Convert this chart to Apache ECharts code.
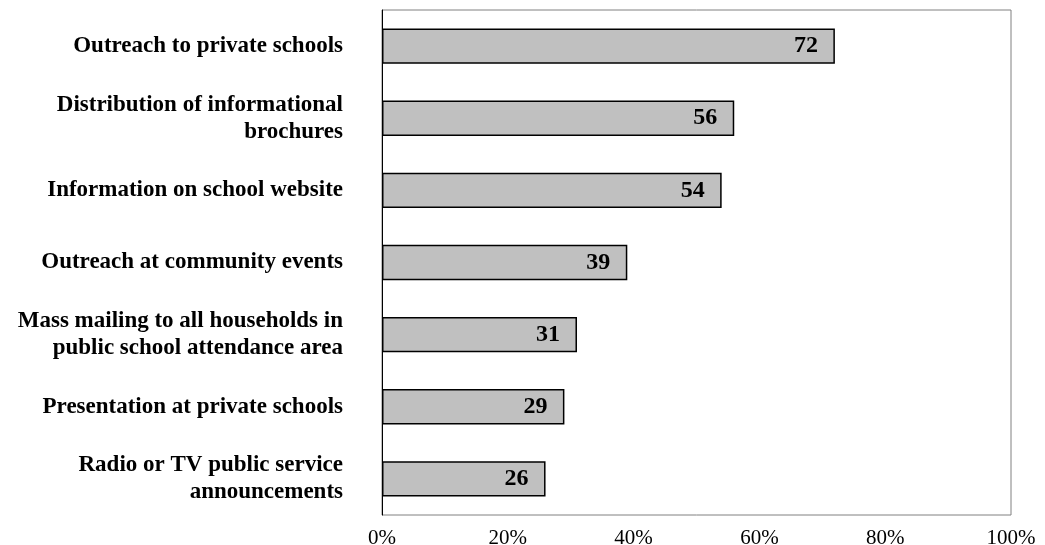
<!DOCTYPE html>
<html>
<head>
<meta charset="utf-8">
<script src="https://cdn.jsdelivr.net/npm/echarts@6/dist/echarts.min.js"></script>
<style>
  html, body { margin: 0; padding: 0; background: #fff; }
  #chart { width: 1045px; height: 545px; }
</style>
</head>
<body>
<div id="chart"></div>
<script>
// Outreach activities, percent of districts using each
const categories = [
  'Outreach to private schools',
  'Distribution of informational\nbrochures',
  'Information on school website',
  'Outreach at community events',
  'Mass mailing to all households in\npublic school attendance area',
  'Presentation at private schools',
  'Radio or TV public service\nannouncements'
];
const values = [72, 56, 54, 39, 31, 29, 26];
const xTicks = [0, 20, 40, 60, 80, 100];

const serif = '"Liberation Serif", "Times New Roman", serif';

const chart = echarts.init(document.getElementById('chart'));
chart.setOption({
  animation: false,
  grid: {
    left: 382, right: 34, top: 10, bottom: 30,
    show: true, borderColor: '#808080', borderWidth: 1,
    containLabel: false,
    outerBoundsMode: 'none'
  },
  xAxis: {
    type: 'value',
    min: xTicks[0], max: xTicks[xTicks.length - 1], interval: 20,
    splitLine: { show: false },
    axisLine: { show: false },
    axisTick: { show: false },
    axisLabel: {
      formatter: v => v + '%',
      fontFamily: serif, fontSize: 21, color: '#000', margin: 13
    }
  },
  yAxis: {
    type: 'category',
    data: categories,
    inverse: true,
    axisLine: { show: true, lineStyle: { color: '#000', width: 1 } },
    axisTick: { show: false },
    axisLabel: {
      fontFamily: serif, fontSize: 23, fontWeight: 'bold', color: '#000',
      align: 'right', lineHeight: 27, margin: 39
    }
  },
  series: [{
    type: 'bar',
    data: values,
    barCategoryGap: '51%',
    itemStyle: { color: '#c0c0c0', borderColor: '#000', borderWidth: 1.5 },
    label: {
      show: true, position: 'insideRight', distance: 17,
      fontFamily: serif, fontSize: 24, fontWeight: 'bold', color: '#000'
    }
  }]
});
</script>
</body>
</html>
